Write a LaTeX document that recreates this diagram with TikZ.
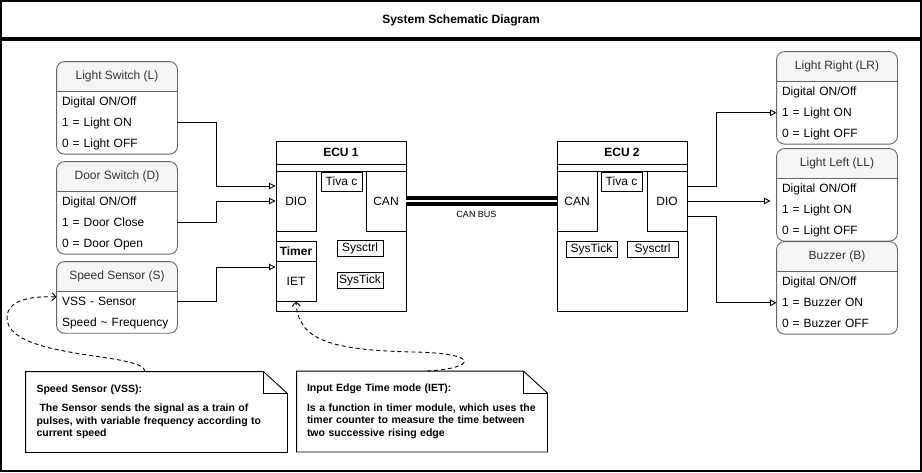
\documentclass[tikz,border=0pt]{standalone}
\usepackage{fontspec}
\setmainfont{Liberation Sans}
\usepackage{tikz}
\usetikzlibrary{arrows.meta,positioning,backgrounds}

\definecolor{hdrfill}{HTML}{F5F5F5}
\definecolor{hdrtext}{HTML}{333333}
\definecolor{boxline}{HTML}{666666}

\begin{document}
\begin{tikzpicture}[
    x=1pt, y=-1pt, line width=0.9pt,
    every node/.style={font=\fontsize{12}{14}\selectfont, inner sep=0pt},
    frame/.style={draw, line width=1.8pt},
    lhead/.style={minimum width=120pt, minimum height=29pt, text=hdrtext},
    lrow/.style={text width=110pt, inner xsep=5pt, minimum height=20pt, align=left, text height=9pt, text depth=1.5pt},
    ecu/.style={draw, minimum width=130pt, minimum height=170pt},
    ecuhead/.style={minimum width=130pt, minimum height=23pt, font=\bfseries\fontsize{12}{14}\selectfont},
    part/.style={draw, fill=white},
    note/.style={align=left, font=\bfseries\fontsize{10.5}{12.5}\selectfont},
    conn/.style={-{Triangle[open, length=6.5pt, width=6.5pt]}},
    canbus/.style={line width=3.3pt, double=white, double distance=2.7pt},
    hint/.style={dashed, dash pattern=on 4pt off 3pt, -{Straight Barb[length=4pt, width=8pt]}}
]
\useasboundingbox (0,0) rectangle (922,472);

\node[frame, minimum width=920pt, minimum height=431pt] (body) at (461,255.5) {};
\node[frame, minimum width=920pt, minimum height=37pt, text depth=0pt, font=\bfseries\fontsize{12}{14}\selectfont] (title) at (461,19.5) {System Schematic Diagram};

% inputs
\node[lhead] (ls) at (117,76.5) {Light Switch (L)};
\node[lrow, below=0pt of ls] (ls1) {Digital ON/Off};
\node[lrow, below=0pt of ls1] (ls2) {1 = Light ON};
\node[lrow, below=0pt of ls2] (ls3) {0 = Light OFF};

\node[lhead] (ds) at (117,176.5) {Door Switch (D)};
\node[lrow, below=0pt of ds] (ds1) {Digital ON/Off};
\node[lrow, below=0pt of ds1] (ds2) {1 = Door Close};
\node[lrow, below=0pt of ds2] (ds3) {0 = Door Open};

\node[lhead] (ss) at (117,276.5) {Speed Sensor (S)};
\node[lrow, below=0pt of ss] (ss1) {VSS - Sensor};
\node[lrow, below=0pt of ss1] (ss2) {Speed \textasciitilde{} Frequency};

% outputs
\node[lhead] (lr) at (837,66.5) {Light Right (LR)};
\node[lrow, below=0pt of lr] (lr1) {Digital ON/Off};
\node[lrow, below=0pt of lr1] (lr2) {1 = Light ON};
\node[lrow, below=0pt of lr2] (lr3) {0 = Light OFF};

\node[lhead] (ll) at (837,163.5) {Light Left (LL)};
\node[lrow, below=0pt of ll] (ll1) {Digital ON/Off};
\node[lrow, below=0pt of ll1] (ll2) {1 = Light ON};
\node[lrow, below=0pt of ll2] (ll3) {0 = Light OFF};

\node[lhead] (bz) at (837,256.5) {Buzzer (B)};
\node[lrow, below=0pt of bz] (bz1) {Digital ON/Off};
\node[lrow, below=0pt of bz1] (bz2) {1 = Buzzer ON};
\node[lrow, below=0pt of bz2] (bz3) {0 = Buzzer OFF};

\foreach \h/\l in {ls/ls3, ds/ds3, ss/ss2, lr/lr3, ll/ll3, bz/bz3} {
  \begin{scope}[on background layer]
    \fill[hdrfill, rounded corners=8pt] (\h.north west) rectangle (\l.south east);
    \fill[white] (\h.south west) rectangle (\l.south east);
  \end{scope}
  \draw[boxline, rounded corners=8pt] (\h.north west) rectangle (\l.south east);
  \draw[boxline] (\h.south west) -- (\h.south east);
}

% ECU 1
\node[ecu] (ecu1) at (341,226) {};
\node[ecuhead, below=0pt of ecu1.north] (ecu1h) {ECU 1};
\draw (ecu1h.south west) -- (ecu1h.south east);
\draw ([yshift=-7pt]ecu1h.south west) -- ([yshift=-7pt]ecu1h.south east);
\node[part, minimum width=40pt, minimum height=60pt] (dio1) at (296,201) {DIO};
\node[part, minimum width=40pt, minimum height=60pt] (can1) at (386,201) {CAN};
\node[part, minimum width=41pt, minimum height=19pt] (tiva1) at (341.5,181.5) {Tiva c};
\node[part, minimum width=40pt, minimum height=20pt, font=\bfseries\fontsize{12}{14}\selectfont] (tmr1) at (296,251) {Timer};
\node[part, minimum width=40pt, minimum height=40pt] (iet1) at (296,281) {IET};
\node[part, minimum width=46pt, minimum height=16pt] (sysc1) at (360,248.5) {Sysctrl};
\node[part, minimum width=46pt, minimum height=16pt] (syst1) at (360,280) {SysTick};

% ECU 2
\node[ecu] (ecu2) at (622,226) {};
\node[ecuhead, below=0pt of ecu2.north] (ecu2h) {ECU 2};
\draw (ecu2h.south west) -- (ecu2h.south east);
\draw ([yshift=-7pt]ecu2h.south west) -- ([yshift=-7pt]ecu2h.south east);
\node[part, minimum width=40pt, minimum height=60pt] (can2) at (577,201) {CAN};
\node[part, minimum width=40pt, minimum height=60pt] (dio2) at (667,201) {DIO};
\node[part, minimum width=41pt, minimum height=19pt] (tiva2) at (621.5,181.5) {Tiva c};
\node[part, minimum width=51pt, minimum height=16pt] (syst2) at (591.5,249) {SysTick};
\node[part, minimum width=51pt, minimum height=16pt] (sysc2) at (652.5,249) {Sysctrl};

\draw[canbus] (can1.east) -- node[below=9pt, xshift=-5pt, font=\fontsize{9}{10}\selectfont] (busl) {CAN BUS} (can2.west);

\draw[conn] (ls2.east) -- ++(39,0) |- ([yshift=15pt]dio1.west);
\draw[conn] (ds2.east) -- ++(39,0) |- (dio1.west);
\draw[conn] (ss1.east) -- ++(39,0) |- ([yshift=14pt]iet1.west);
\draw[conn] ([yshift=15pt]dio2.east) -- ++(29,0) |- (lr2.west);
\draw[conn, shorten >=6pt] (dio2.east) -- (dio2.east -| ll2.west);
\draw[conn] ([yshift=-15pt]dio2.east) -- ++(29,0) |- (bz2.west);

% notes
\node[note, minimum width=261pt, minimum height=80pt, text width=240pt] (vssnote) at (156.5,412) {Speed Sensor (VSS):\\[7pt]\hspace*{3pt}The Sensor sends the signal as a train of\\pulses, with variable frequency according to\\current speed};
\node[note, minimum width=250pt, minimum height=80pt, text width=230pt] (ietnote) at (422,411.5) {Input Edge Time mode (IET):\\[7pt]Is a function in timer module, which uses the\\timer counter to measure the time between\\two successive rising edge};
\foreach \n in {vssnote, ietnote} {
  \draw (\n.north west) -- ([xshift=-24pt]\n.north east) -- ([yshift=-22pt]\n.north east) -- (\n.south east) -- (\n.south west) -- cycle;
  \draw ([xshift=-24pt]\n.north east) |- ([yshift=-22pt]\n.north east);
}

\draw[hint] ([xshift=-11.5pt]vssnote.north) .. controls (145,352) and (8,360) .. (7,318) .. controls (7,300) and (30,296) .. ([yshift=5pt]ss1.west);
\draw[hint] ([xshift=5pt]ietnote.north) .. controls (478,368) and (480,353) .. (413,352) .. controls (330,350) and (298,340) .. (iet1.south);
\end{tikzpicture}
\end{document}
